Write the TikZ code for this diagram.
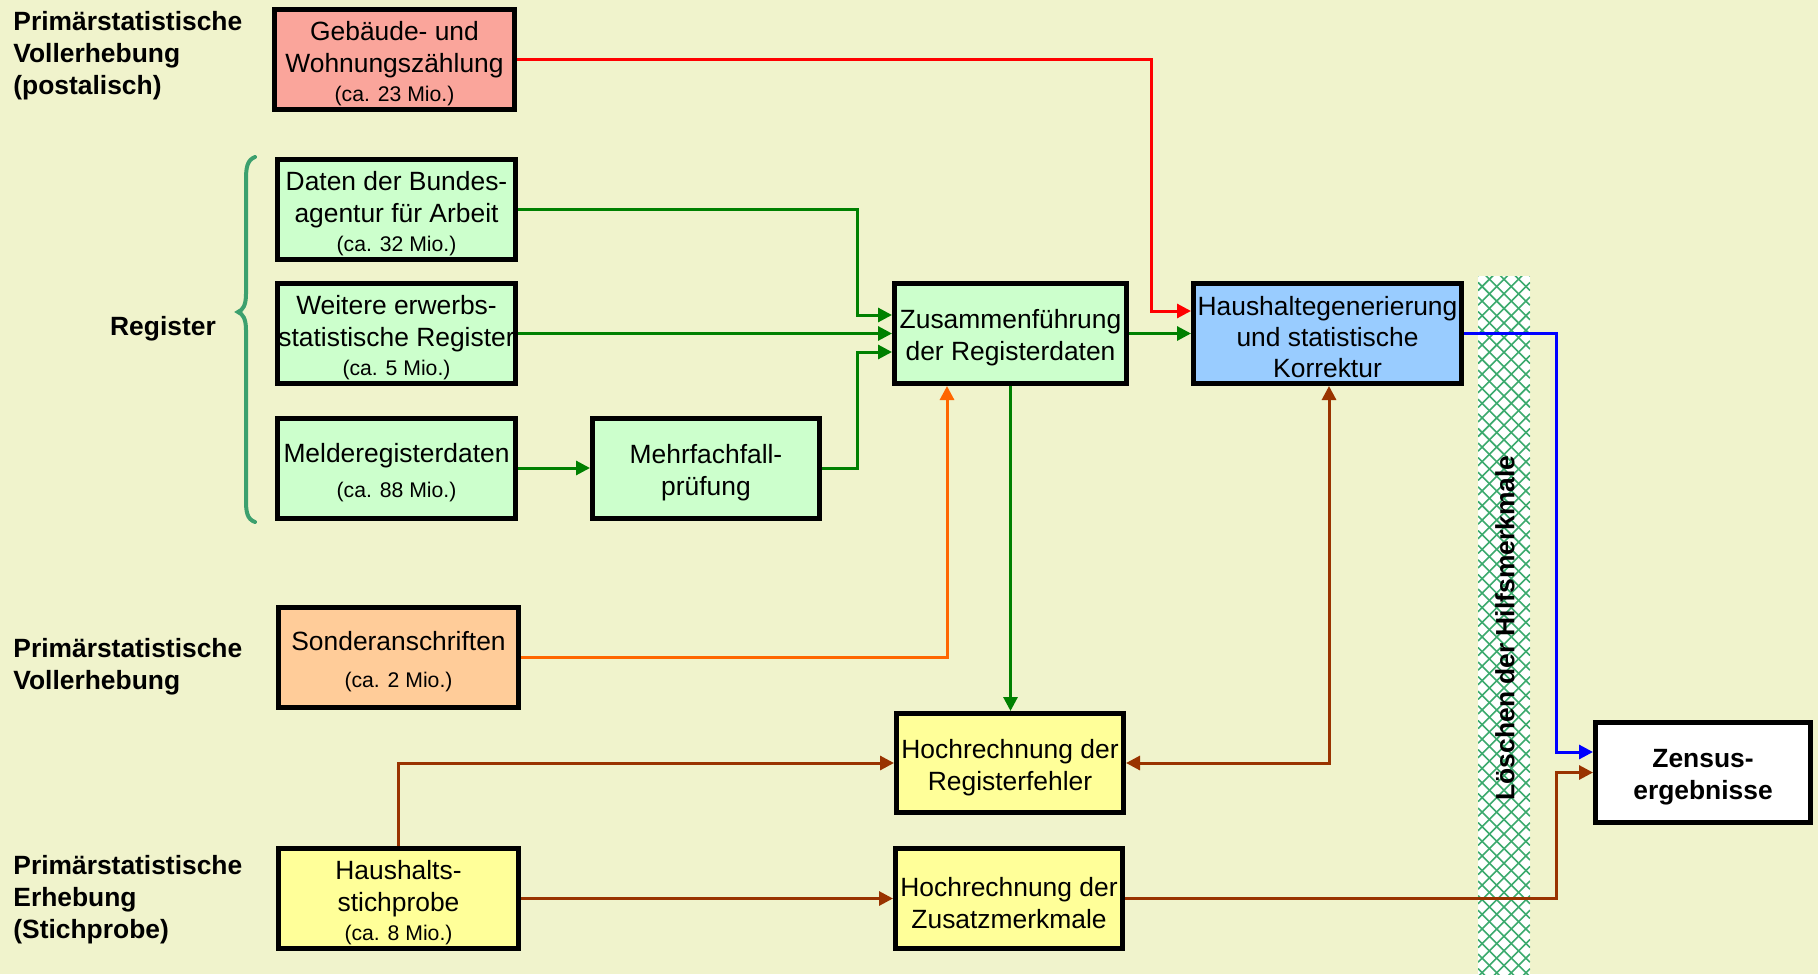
\documentclass[tikz,border=0pt]{standalone}
\usepackage{fontspec}
\setmainfont{Liberation Sans}
\usetikzlibrary{arrows.meta}
\definecolor{bg}{RGB}{240,243,204}
\definecolor{salmon}{RGB}{250,165,155}
\definecolor{lgreen}{RGB}{204,255,204}
\definecolor{lblue}{RGB}{153,204,255}
\definecolor{lorange}{RGB}{255,204,153}
\definecolor{lyellow}{RGB}{255,255,153}
\definecolor{dgreen}{RGB}{0,128,0}
\definecolor{orng}{RGB}{255,102,0}
\definecolor{brwn}{RGB}{153,51,0}
\definecolor{hatchc}{RGB}{60,170,110}
\definecolor{bracec}{RGB}{60,160,110}
\newcommand{\miotxt}[1]{{\fontsize{10.6}{13}\selectfont #1}}
\newcommand{\tstrut}{\rule{0pt}{13.8pt}}
\begin{document}
\begin{tikzpicture}[x=0.5pt,y=-0.5pt,
  box/.style={draw=black, line width=2.5pt, minimum width=119pt, minimum height=50pt,
    inner sep=0pt, align=center, font=\fontsize{13.2}{16}\selectfont},
  conn/.style={line width=1.5pt, -{Triangle[length=7pt,width=7pt]}},
  lbl/.style={anchor=west, align=left, font=\bfseries\fontsize{13.2}{16}\selectfont, inner sep=0pt}
]
\useasboundingbox (0,0) rectangle (1818,974);
\fill[bg] (0,0) rectangle (1818,974);

% hatched band
\fill[white] (1478,276) rectangle (1530,974);
\begin{scope}
\clip (1478,276) rectangle (1530,974);
\foreach \i in {0,...,53} {
  \draw[hatchc, line width=0.8pt] (1478,{224+\i*14.6}) -- (1530,{276+\i*14.6});
  \draw[hatchc, line width=0.8pt] (1478,{276+\i*14.6}) -- (1530,{224+\i*14.6});
}
\end{scope}
\node[rotate=90, font=\bfseries\fontsize{13.2}{16}\selectfont, inner sep=0pt] (loesch) at (1505,628) {Löschen der Hilfsmerkmale};

% left labels
\node[lbl] (l1) at (13,56) {Primärstatistische\\Vollerhebung\\(postalisch)};
\node[font=\bfseries\fontsize{13.2}{16}\selectfont, inner sep=0pt] (lreg) at (163,329) {Register};
\node[lbl] (l2) at (13,667) {Primärstatistische\\Vollerhebung};
\node[lbl] (l3) at (13,900) {Primärstatistische\\Erhebung\\(Stichprobe)};

% brace
\draw[bracec, line width=2pt, line cap=round] (255,157) .. controls (247,160) and (246,168) .. (246,180)
  -- (246,294) .. controls (246,305) and (243,310) .. (238,312)
  .. controls (243,314) and (246,319) .. (246,330) -- (246,500)
  .. controls (246,512) and (247,519) .. (255,522);

% boxes
\node[box, fill=salmon, minimum width=120pt] (geb) at (394.5,59.5) {\tstrut Gebäude- und\\Wohnungszählung\\[-1.5pt]\miotxt{(ca. 23 Mio.)}};
\node[box, fill=lgreen] (daten) at (396.5,209.5) {\tstrut Daten der Bundes-\\agentur für Arbeit\\[-1.5pt]\miotxt{(ca. 32 Mio.)}};
\node[box, fill=lgreen] (weit) at (396.5,333.5) {\tstrut Weitere erwerbs-\\statistische Register\\[-1.5pt]\miotxt{(ca. 5 Mio.)}};
\node[box, fill=lgreen] (melde) at (396.5,468) {\tstrut Melderegisterdaten\\[1.5pt]\miotxt{(ca. 88 Mio.)}};
\node[box, fill=lgreen, minimum width=113.5pt] (mehr) at (706,468) {\tstrut Mehrfachfall-\\prüfung};
\node[box, fill=lgreen, minimum width=116pt] (zus) at (1010.5,333.5) {\tstrut Zusammenführung\\der Registerdaten};
\node[box, fill=lblue, minimum width=134pt, font=\fontsize{13.2}{15.5}\selectfont] (haus) at (1327.5,333.5) {\rule{0pt}{13pt}Haushaltegenerierung\\und statistische\\Korrektur};
\node[box, fill=white, minimum width=107.5pt, font=\bfseries\fontsize{13.2}{16}\selectfont] (zensus) at (1703,772.5) {\tstrut Zensus-\\ergebnisse};
\node[box, fill=lorange, minimum width=120pt] (sonder) at (398.5,657) {\tstrut Sonderanschriften\\[2.5pt]\miotxt{(ca. 2 Mio.)}};
\node[box, fill=lyellow, minimum width=113.5pt, minimum height=49.5pt] (hreg) at (1010,763) {\tstrut Hochrechnung der\\Registerfehler};
\node[box, fill=lyellow, minimum width=120pt] (hst) at (398.5,898.5) {\tstrut Haushalts-\\stichprobe\\[-1.5pt]\miotxt{(ca. 8 Mio.)}};
\node[box, fill=lyellow, minimum width=113.5pt] (hzus) at (1009,898.5) {\tstrut Hochrechnung der\\Zusatzmerkmale};

% connectors
\draw[conn, red] (geb.east) -- (1151,59.5) -- (1151,311) -- (haus.west |- 0,311);
\draw[conn, dgreen] (daten.east) -- (857,209.5) -- (857,315) -- (zus.west |- 0,315);
\draw[conn, dgreen] (weit.east) -- (zus.west);
\draw[conn, dgreen] (melde.east) -- (mehr.west);
\draw[conn, dgreen] (mehr.east) -- (857,468) -- (857,352) -- (zus.west |- 0,352);
\draw[conn, dgreen] (zus.east) -- (haus.west);
\draw[conn, dgreen] (zus.south) -- (zus.south |- hreg.north);
\draw[conn, orng] (sonder.east) -- (947,657) -- (zus.south -| 947,0);
\draw[line width=1.5pt, brwn, {Triangle[length=7pt,width=7pt]}-{Triangle[length=7pt,width=7pt]}] (hreg.east) -- (1329,763) -- (haus.south -| 1329,0);
\draw[conn, brwn] (hst.north) |- (hreg.west);
\draw[conn, brwn] (hst.east) -- (hzus.west);
\draw[conn, brwn] (hzus.east) -- (1556,898.5) -- (1556,772.5) -- (zensus.west);
\draw[conn, blue] (haus.east) -- (1556,333.5) -- (1556,752) -- (zensus.west |- 0,752);
\end{tikzpicture}
\end{document}
